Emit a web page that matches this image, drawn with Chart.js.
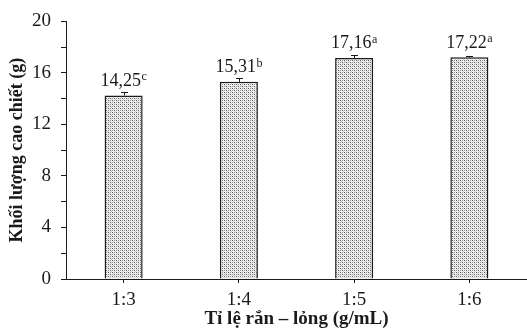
<!DOCTYPE html>
<html><head><meta charset="utf-8">
<script src="https://cdn.jsdelivr.net/npm/chart.js@4.4.1/dist/chart.umd.min.js"></script>
<style>html,body{margin:0;padding:0;background:#fff}#wrap{width:527px;height:330px}</style>
</head><body><div id="wrap"><canvas id="c" width="527" height="330"></canvas></div>
<script>
const categories = ["1:3", "1:4", "1:5", "1:6"];
const values = [14.25, 15.31, 17.16, 17.22];
const errors = [0.25, 0.28, 0.26, 0.08];
const letters = ["c", "b", "a", "a"];
const yTicks = [0, 4, 8, 12, 16, 20];

function makePattern() {
  const p = document.createElement('canvas');
  p.width = 4; p.height = 4;
  const g = p.getContext('2d');
  g.fillStyle = '#eeeeee'; g.fillRect(0,0,4,4);
  const px = (x,y,c)=>{g.fillStyle=c; g.fillRect(x,y,1,1);};
  px(0,0,'#5e5e5e'); px(2,2,'#5e5e5e');
  px(2,0,'#9a9a9a'); px(0,2,'#9a9a9a');
  px(1,1,'#cfcfcf'); px(3,3,'#cfcfcf');
  return document.getElementById('c').getContext('2d').createPattern(p, 'repeat');
}

const SERIF = "'Liberation Serif', 'Times New Roman', serif";
const INK = '#1a1a1a';

const labelPlugin = {
  id: 'labelsErr',
  afterDatasetsDraw(chart) {
    const ctx = chart.ctx;
    const meta = chart.getDatasetMeta(0);
    const ys = chart.scales.y;
    ctx.save();
    meta.data.forEach((bar, i) => {
      const yTop = ys.getPixelForValue(values[i] + errors[i]);
      const yBar = bar.y;
      const cx = Math.round(bar.x) + 0.5;
      ctx.strokeStyle = INK;
      ctx.lineWidth = 1;
      ctx.beginPath();
      ctx.moveTo(cx, yBar);
      ctx.lineTo(cx, Math.round(yTop) + 0.5);
      ctx.moveTo(cx - 3.5, Math.round(yTop) + 0.5);
      ctx.lineTo(cx + 3.5, Math.round(yTop) + 0.5);
      ctx.stroke();
      const main = values[i].toFixed(2).replace('.', ',');
      ctx.font = '18px ' + SERIF;
      const w1 = ctx.measureText(main).width;
      ctx.font = '12px ' + SERIF;
      const w2 = ctx.measureText(letters[i]).width;
      const total = w1 + w2 + 0.5;
      const x0 = bar.x - total / 2;
      const base = yBar - 9.5;
      ctx.fillStyle = INK;
      ctx.textBaseline = 'alphabetic';
      ctx.textAlign = 'left';
      ctx.font = '18px ' + SERIF;
      ctx.fillText(main, x0, base);
      ctx.font = '12px ' + SERIF;
      ctx.fillText(letters[i], x0 + w1 + 0.5, base - 5.5);
    });
    ctx.restore();
  }
};

new Chart(document.getElementById('c'), {
  type: 'bar',
  data: {
    labels: categories,
    datasets: [{
      data: values,
      backgroundColor: makePattern(),
      borderColor: INK,
      borderWidth: 1.5,
      borderSkipped: 'bottom',
      categoryPercentage: 1,
      barPercentage: 0.33
    }]
  },
  options: {
    responsive: false,
    animation: false,
    devicePixelRatio: 1,
    layout: { padding: { top: 19, right: 0, left: 0, bottom: 0 } },
    plugins: { legend: { display: false }, tooltip: { enabled: false } },
    scales: {
      y: {
        min: 0, max: 20,
        ticks: {
          stepSize: 2,
          autoSkip: false,
          padding: 10,
          color: INK,
          font: { family: SERIF, size: 19 },
          callback: (v) => (yTicks.includes(v) ? String(v) : '')
        },
        grid: { drawOnChartArea: false, drawTicks: true, tickLength: 5, color: INK },
        border: { color: INK, width: 1 },
        title: {
          display: true,
          text: 'Khối lượng cao chiết (g)',
          color: INK,
          font: { family: SERIF, size: 18, weight: 'bold' },
          padding: { top: 7, bottom: 0 }
        },
        afterFit(s) { s.width = 66; }
      },
      x: {
        ticks: {
          padding: 6,
          color: INK,
          font: { family: SERIF, size: 19 }
        },
        grid: { drawOnChartArea: false, drawTicks: true, tickLength: 4, color: INK, offset: false },
        border: { color: INK, width: 1 },
        title: {
          display: true,
          text: 'Tỉ lệ rắn – lỏng (g/mL)',
          color: INK,
          font: { family: SERIF, size: 19, weight: 'bold' },
          padding: { top: 0, bottom: 0 }
        },
        afterFit(s) { s.height = 51; }
      }
    }
  },
  plugins: [labelPlugin]
});
</script>
</body></html>
